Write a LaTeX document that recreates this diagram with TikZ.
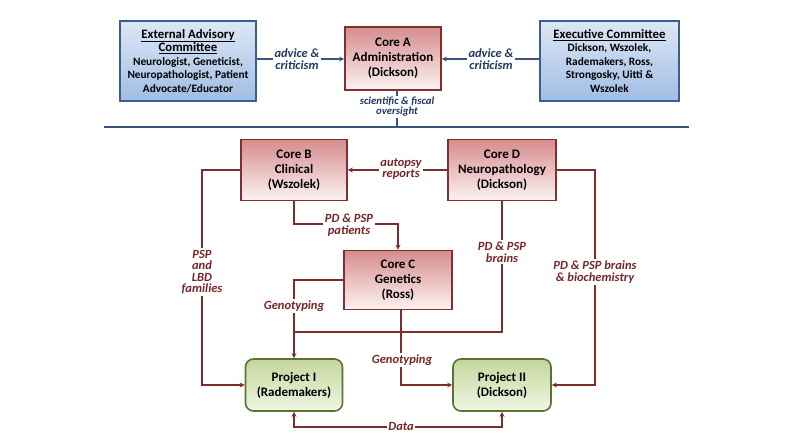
\documentclass[tikz,border=0pt]{standalone}
\usepackage{fontspec}
\setmainfont{Carlito}
\usetikzlibrary{arrows.meta,calc}
\definecolor{redline}{RGB}{124,44,44}
\definecolor{redlabel}{RGB}{118,38,40}
\definecolor{redtop}{RGB}{214,140,140}
\definecolor{redbot}{RGB}{253,243,243}
\definecolor{redborder}{RGB}{128,48,48}
\definecolor{bluetop}{RGB}{221,231,245}
\definecolor{bluebot}{RGB}{160,189,228}
\definecolor{blueborder}{RGB}{60,94,142}
\definecolor{bluelabel}{RGB}{31,56,100}
\definecolor{greentop}{RGB}{195,214,156}
\definecolor{greenbot}{RGB}{240,246,228}
\definecolor{greenborder}{RGB}{90,115,49}
\definecolor{sepline}{RGB}{58,86,126}
\begin{document}
\begin{tikzpicture}[x=1pt,y=-1pt,
  boxtext/.style={font=\bfseries\fontsize{13}{15}\selectfont, align=center, inner sep=0pt},
  redbox/.style={boxtext, draw=redborder, line width=1.6pt, top color=redtop, bottom color=redbot},
  bluebox/.style={draw=blueborder, line width=1.6pt, top color=bluetop, bottom color=bluebot, align=center, inner sep=0pt, font=\bfseries\fontsize{11.3}{13.5}\selectfont},
  greenbox/.style={boxtext, draw=greenborder, line width=1.6pt, top color=greentop, bottom color=greenbot, rounded corners=8pt},
  redlab/.style={font=\bfseries\itshape\fontsize{12.5}{11.5}\selectfont, text=redlabel, fill=white, align=center, inner sep=1.5pt},
  bluelab/.style={font=\bfseries\itshape\fontsize{12.5}{11.5}\selectfont, text=bluelabel, fill=white, align=center, inner sep=1.5pt},
  redcon/.style={draw=redline, line width=2pt},
  bluecon/.style={draw=sepline, line width=2pt},
  tip/.style={-{Stealth[length=5pt,width=5pt]}},
]
\useasboundingbox (0,0) rectangle (796,447);
% top row
\node[bluebox, minimum width=136pt, minimum height=80pt] (ea) at (188,61)
  {{\fontsize{12.8}{15}\selectfont\underline{External Advisory}}\\{\fontsize{12.8}{15}\selectfont\underline{Committee}}\\Neurologist, Geneticist,\\Neuropathologist, Patient\\Advocate/Educator};
\node[redbox, minimum width=96pt, minimum height=63pt] (coreA) at (393,58.5)
  {Core A\\Administration\\(Dickson)};
\node[bluebox, minimum width=139pt, minimum height=80pt] (exec) at (609.5,61)
  {{\fontsize{12.8}{15}\selectfont\underline{Executive Committee}}\\Dickson, Wszolek,\\Rademakers, Ross,\\Strongosky, Uitti \&\\Wszolek};
% separator
\coordinate (sepL) at (104,127);
\coordinate (sepR) at (689,127);
\draw[bluecon] (sepL) -- (sepR);
% advice arrows
\draw[bluecon, tip] (ea.east |- 0,59) -- (coreA.west |- 0,59);
\draw[bluecon, tip] (exec.west |- 0,59) -- (coreA.east |- 0,59);
\node[bluelab] (adv1) at (297,59) {advice \&\\criticism};
\node[bluelab] (adv2) at (491,59) {advice \&\\criticism};
\coordinate (aBot) at (397,90);
\coordinate (aSep) at (397,127);
\draw[bluecon] (aBot) -- (aSep);
\node[bluelab, font=\bfseries\itshape\fontsize{10.8}{10}\selectfont, inner sep=1pt] (ovs) at (397,107) {scientific \& fiscal\\oversight};
% cores
\node[redbox, minimum width=106pt, minimum height=61pt] (coreB) at (294,170) {Core B\\Clinical\\(Wszolek)};
\node[redbox, minimum width=108pt, minimum height=61pt] (coreD) at (502,170) {Core D\\Neuropathology\\(Dickson)};
\node[redbox, minimum width=108pt, minimum height=59pt] (coreC) at (398,280) {Core C\\Genetics\\(Ross)};
\node[greenbox, minimum width=97pt, minimum height=52pt] (p1) at (294,385) {Project I\\(Rademakers)};
\node[greenbox, minimum width=98pt, minimum height=52pt] (p2) at (502,385) {Project II\\(Dickson)};
% connectors
\draw[redcon, tip] (coreD.west) -- (coreB.east);
\draw[redcon, tip] (coreB.south) |- (398,224) -- (coreC.north);
\draw[redcon, tip] (coreB.west) -| (202,385) -- (p1.west);
\draw[redcon, tip] (coreC.west) -| (p1.north);
\draw[redcon] (coreD.south) |- (294,332);
\draw[redcon, tip] (401,309) |- (p2.west);
\draw[redcon, tip] (coreD.east) -| (595,385) -- (p2.east);
\draw[redcon, {Stealth[length=5pt,width=5pt]}-{Stealth[length=5pt,width=5pt]}] (p1.south) |- (401,427) -| (p2.south);
% labels
\node[redlab] (aut) at (401,169) {autopsy\\reports};
\node[redlab] (pats) at (349,225) {PD \& PSP\\patients};
\node[redlab] (fam) at (202,272) {PSP\\and\\LBD\\families};
\node[redlab] (gen1) at (294,306) {Genotyping};
\node[redlab] (brains) at (502,252) {PD \& PSP\\brains};
\node[redlab] (gen2) at (402,360) {Genotyping};
\node[redlab] (bio) at (595,272) {PD \& PSP brains\\\& biochemistry};
\node[redlab] (data) at (401,426) {Data};
\end{tikzpicture}
\end{document}
